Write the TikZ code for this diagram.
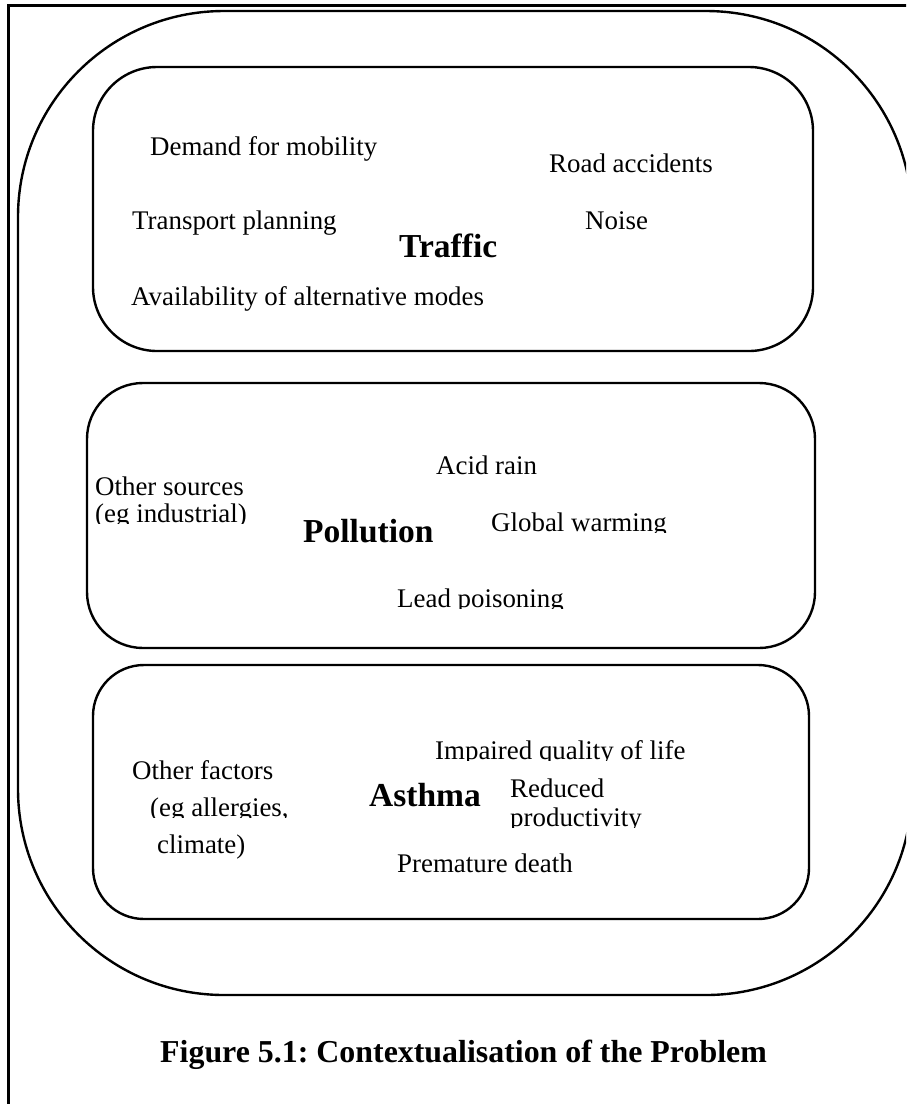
\documentclass[tikz,border=0pt]{standalone}
\usepackage{fontspec}
\setmainfont{Liberation Serif}
\frenchspacing
\begin{document}
\begin{tikzpicture}[x=1pt,y=-1pt,
  frame/.style={line width=2.6pt},
  outline/.style={line width=2.4pt},
  body/.style={anchor=base west,inner sep=0pt,font=\fontsize{26.9pt}{31pt}\selectfont},
  head/.style={anchor=base west,inner sep=0pt,font=\fontsize{33.5pt}{38pt}\selectfont\bfseries},
  caption/.style={anchor=base west,inner sep=0pt,font=\fontsize{31.9pt}{36pt}\selectfont\bfseries}]
\clip (0,0) rectangle (906,1104);
% page frame (only its top and left edges fall on the page)
\draw[frame] (8.5,5.5) rectangle (960,1160);
% enclosing context shape
\draw[outline,rounded corners=206pt] (18,11) rectangle (912,995);
% the three themes
\draw[outline,rounded corners=64pt] (93,67) rectangle (813,351);
\draw[outline,rounded corners=56pt] (87,383) rectangle (815,648);
\draw[outline,rounded corners=51pt] (93,665) rectangle (809,919);

% Traffic
\node[body] (demand) at (150,155) {Demand for mobility};
\node[body] (road) at (549,172) {Road accidents};
\node[body] (transport) at (132,229) {Transport planning};
\node[body] (noise) at (585,229) {Noise};
\node[head] (traffic) at (399,257) {Traffic};
\node[body] (avail) at (131,305) {Availability of alternative modes};

% Pollution
\node[body] (acid) at (436,474) {Acid rain};
\node[body] (othersrc) at (95,495) {Other sources};
\begin{scope}
  \clip (90,500) rectangle (300,523.5);
  \node[body] (egind) at (95,522) {(eg industrial)};
\end{scope}
\node[head] (pollution) at (303,542) {Pollution};
\begin{scope}
  \clip (485,500) rectangle (700,532.5);
  \node[body] (global) at (491,531) {Global warming};
\end{scope}
\begin{scope}
  \clip (390,580) rectangle (600,608.5);
  \node[body] (lead) at (397,607) {Lead poisoning};
\end{scope}

% Asthma
\begin{scope}
  \clip (430,730) rectangle (700,760.5);
  \node[body] (impaired) at (435,759) {Impaired quality of life};
\end{scope}
\node[body] (otherfac) at (132,779) {Other factors};
\begin{scope}
  \clip (140,790) rectangle (330,817.5);
  \node[body] (egall) at (150,816) {(eg allergies,};
\end{scope}
\node[body] (climate) at (157,853) {climate)};
\node[head] (asthma) at (369,806) {Asthma};
\node[body] (reduced) at (510,797) {Reduced};
\begin{scope}
  \clip (500,805) rectangle (700,827.5);
  \node[body] (productivity) at (510,826) {productivity};
\end{scope}
\node[body] (premature) at (397,872) {Premature death};

% caption
\node[caption] (title) at (160,1062) {Figure 5.1: Contextualisation of the Problem};
\end{tikzpicture}
\end{document}
